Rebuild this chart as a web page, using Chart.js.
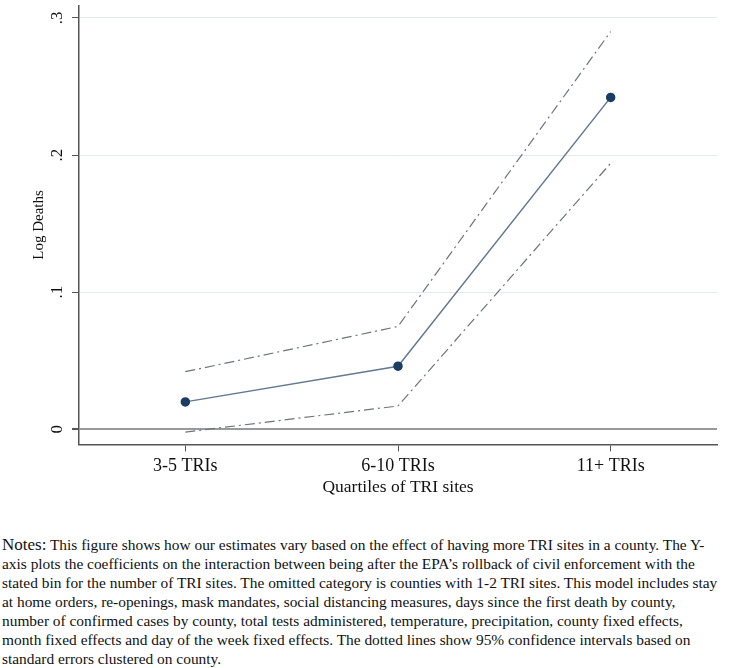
<!DOCTYPE html>
<html>
<head>
<meta charset="utf-8">
<script src="https://cdn.jsdelivr.net/npm/chart.js@4/dist/chart.umd.min.js"></script>
<style>
  body { margin: 0; background: #fff; }
  #wrap { position: relative; width: 740px; height: 502px; }
  #notes {
    position: absolute; left: 2px; top: 535px;
    font-family: "Liberation Serif", "Times New Roman", serif;
    font-size: 15.4px; line-height: 19px; color: #111; white-space: nowrap;
  }
  #notes .lead { font-size: 17px; }
</style>
</head>
<body>
<div id="wrap"><canvas id="c"></canvas></div>
<div id="notes">
<span class="lead">Notes:</span> This figure shows how our estimates vary based on the effect of having more TRI sites in a county. The Y-<br>
axis plots the coefficients on the interaction between being after the EPA’s rollback of civil enforcement with the<br>
stated bin for the number of TRI sites. The omitted category is counties with 1-2 TRI sites. This model includes stay<br>
at home orders, re-openings, mask mandates, social distancing measures, days since the first death by county,<br>
number of confirmed cases by county, total tests administered, temperature, precipitation, county fixed effects,<br>
month fixed effects and day of the week fixed effects. The dotted lines show 95% confidence intervals based on<br>
standard errors clustered on county.
</div>
<script>
const categories = ['3-5 TRIs', '6-10 TRIs', '11+ TRIs'];
const coef = [0.020, 0.046, 0.242];
const upperCI = [0.042, 0.075, 0.290];
const lowerCI = [-0.002, 0.017, 0.194];
const yTicks = [0, 0.1, 0.2, 0.3];

const serif = '"Liberation Serif", "Times New Roman", serif';

const ctx = document.getElementById('c').getContext('2d');
new Chart(ctx, {
    type: 'line',
    data: {
        labels: categories,
        datasets: [
            {
                label: 'upper',
                data: upperCI,
                borderColor: '#6f737c',
                borderWidth: 1.2,
                borderDash: [10, 4, 2, 4],
                pointRadius: 0,
                fill: false
            },
            {
                label: 'lower',
                data: lowerCI,
                borderColor: '#6f737c',
                borderWidth: 1.2,
                borderDash: [10, 4, 2, 4],
                pointRadius: 0,
                fill: false
            },
            {
                label: 'coef',
                data: coef,
                borderColor: '#637a91',
                borderWidth: 1.5,
                pointRadius: 4,
                pointBackgroundColor: '#1b3d63',
                pointBorderColor: '#1b3d63',
                fill: false
            }
        ]
    },
    options: {
        responsive: true,
        maintainAspectRatio: false,
        animation: false,
        layout: {
            padding: { top: 5, right: 23, left: 30, bottom: 4 }
        },
        plugins: {
            legend: { display: false },
            tooltip: { enabled: false }
        },
        scales: {
            x: {
                type: 'category',
                offset: true,
                grid: {
                    display: true,
                    drawOnChartArea: false,
                    tickLength: 7,
                    tickColor: '#555',
                    offset: false
                },
                border: { color: '#555', width: 1.5 },
                ticks: {
                    color: '#111',
                    padding: 4,
                    font: { family: serif, size: 18 }
                },
                title: {
                    display: true,
                    text: 'Quartiles of TRI sites',
                    color: '#111',
                    padding: { top: -4, bottom: 0 },
                    font: { family: serif, size: 17.5 }
                }
            },
            y: {
                min: -0.011,
                max: 0.309,
                afterBuildTicks: axis => {
                    axis.ticks = yTicks.map(v => ({ value: v }));
                },
                afterFit: axis => {
                    axis.width = 49;
                    axis.paddingTop = 0;
                    axis.paddingBottom = 0;
                },
                grid: {
                    color: c => c.tick && c.tick.value === 0 ? '#9a9a9a' : '#e6eaed',
                    lineWidth: c => c.tick && c.tick.value === 0 ? 2 : 1,
                    tickLength: 7,
                    tickColor: '#555'
                },
                border: { color: '#555', width: 1.5 },
                ticks: {
                    color: '#111',
                    minRotation: 90,
                    maxRotation: 90,
                    crossAlign: 'center',
                    padding: 8,
                    font: { family: serif, size: 17 },
                    callback: v => v === 0 ? '0' : String(+v.toFixed(2)).replace(/^0/, '')
                },
                title: {
                    display: true,
                    text: 'Log Deaths',
                    color: '#111',
                    padding: { top: 0, bottom: 4 },
                    font: { family: serif, size: 15 }
                }
            }
        }
    }
});
</script>
</body>
</html>
